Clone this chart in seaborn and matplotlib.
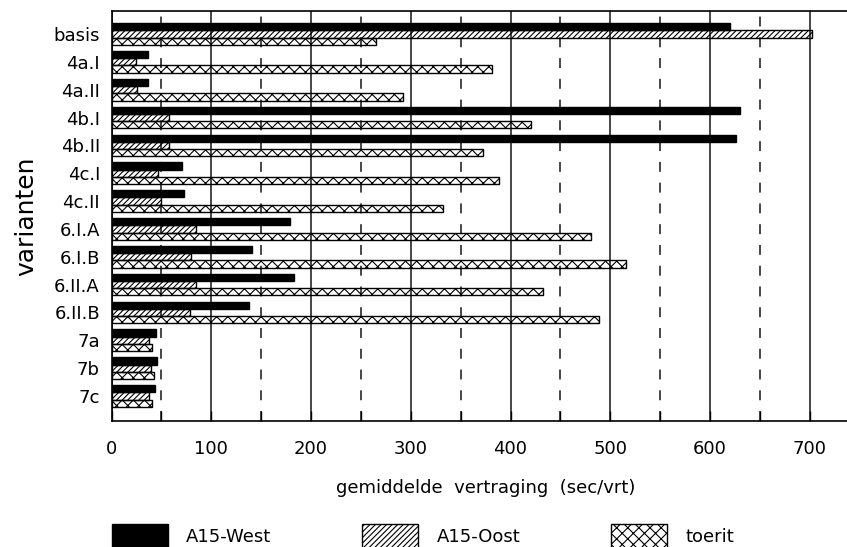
import numpy as np
import pandas as pd
import seaborn as sns
import matplotlib
matplotlib.use("Agg")
import matplotlib.pyplot as plt
from matplotlib.patches import Patch
from matplotlib.ticker import MultipleLocator

# ---- data -------------------------------------------------------------
varianten = ["basis", "4a.I", "4a.II", "4b.I", "4b.II", "4c.I", "4c.II",
             "6.I.A", "6.I.B", "6.II.A", "6.II.B", "7a", "7b", "7c"]
reeksen = ["A15-West", "A15-Oost", "toerit"]
a15_west = [620, 37, 37, 630, 626, 71, 73, 179, 141, 183, 138, 45, 46, 44]
a15_oost = [702, 25, 26, 58, 58, 47, 50, 85, 80, 85, 79, 38, 40, 38]
toerit = [265, 381, 292, 421, 372, 388, 332, 481, 516, 433, 489, 41, 43, 41]
x_ticks = [0, 100, 200, 300, 400, 500, 600, 700]

df = pd.DataFrame({
    "variant": varianten * 3,
    "reeks": [reeksen[0]] * len(varianten) + [reeksen[1]] * len(varianten)
             + [reeksen[2]] * len(varianten),
    "waarde": a15_west + a15_oost + toerit,
})

# ---- style ------------------------------------------------------------
sns.set_theme(style="white")
plt.rcParams["font.family"] = ["DejaVu Sans"]
plt.rcParams["hatch.linewidth"] = 0.8
plt.rcParams["hatch.color"] = "black"
for k in ["text.color", "axes.labelcolor", "xtick.color", "ytick.color"]:
    plt.rcParams[k] = "black"

W, H = 847, 547
fig = plt.figure(figsize=(W / 100, H / 100), dpi=100)
ax = fig.add_axes([111.5 / W, 1 - 421 / H, (W - 111.5) / W, 410 / H])

sns.barplot(data=df, x="waarde", y="variant", hue="reeks", orient="y",
            order=varianten, hue_order=reeksen, palette=["black", "white", "white"],
            width=0.78, gap=0, legend=False, ax=ax, zorder=3)

HATCH_OOST = "//////"
HATCH_TOERIT = "xxx"
styles = [dict(fc="black", hatch=None), dict(fc="none", hatch=HATCH_OOST),
          dict(fc="none", hatch=HATCH_TOERIT)]
for cont, st in zip(ax.containers, styles):
    for bar in cont:
        bar.set_facecolor(st["fc"])
        bar.set_edgecolor("black")
        bar.set_linewidth(1.0)
        if st["hatch"]:
            bar.set_hatch(st["hatch"])

ax.set_xlim(0, (W - 111.5) / 0.9976)
ax.set_ylim(13.898, -0.826)

ax.xaxis.set_major_locator(MultipleLocator(100))
ax.xaxis.set_minor_locator(MultipleLocator(50))
ax.set_xticks(x_ticks)
ax.set_xticklabels([str(v) for v in x_ticks])

ax.grid(False)
ax.xaxis.grid(True, which="major", color="#383838", lw=1.3, ls="-", zorder=0)
ax.xaxis.grid(True, which="minor", color="#383838", lw=1.3, ls=(0, (5.5, 6)), zorder=0)
ax.set_axisbelow(True)

ax.tick_params(axis="x", which="both", direction="in", length=7.5, width=1.0,
               color="black", bottom=True, top=False, labelsize=13, pad=14,
               labelcolor="black")
ax.tick_params(axis="y", which="both", length=0, labelsize=13, pad=8.3,
               labelcolor="black")

for side in ["left", "bottom", "top"]:
    ax.spines[side].set_visible(True)
    ax.spines[side].set_color("black")
    ax.spines[side].set_linewidth(1.2)
ax.spines["right"].set_visible(False)

ax.set_xlabel("gemiddelde  vertraging  (sec/vrt)", fontsize=13, color="black")
ax.xaxis.set_label_coords(0.509, -0.141)
ax.set_ylabel("varianten", fontsize=18, color="black")
ax.yaxis.set_label_coords(-0.099, 0.5)

handles = [Patch(facecolor="black", edgecolor="black"),
           Patch(facecolor="white", edgecolor="black", hatch=HATCH_OOST),
           Patch(facecolor="white", edgecolor="black", hatch=HATCH_TOERIT)]
fig.legend(handles, reeksen, loc="center left", bbox_to_anchor=(112 / W, 1 - 536 / H),
           ncol=3, frameon=False, fontsize=13, handlelength=3.1, handleheight=1.6,
           handletextpad=1.0, columnspacing=5.05, borderpad=0, borderaxespad=0,
           labelcolor="black")

fig.savefig("out.png", dpi=100)
